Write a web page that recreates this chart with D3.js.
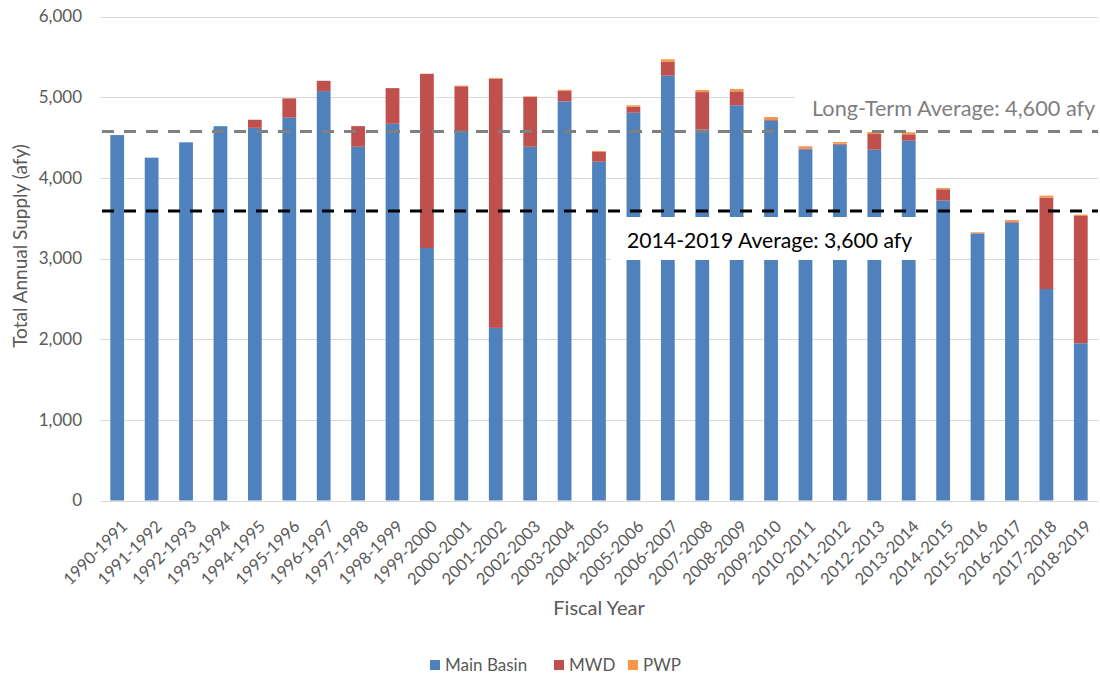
<!DOCTYPE html>
<html>
<head>
<meta charset="utf-8">
<script src="https://cdn.jsdelivr.net/npm/d3@7"></script>
<style>
  html, body { margin: 0; padding: 0; background: #fff; }
  svg { display: block; font-family: Lato, "Open Sans", sans-serif; }
</style>
</head>
<body>
<svg id="chart" width="1100" height="674"></svg>
<script>
const categories = ["1990-1991","1991-1992","1992-1993","1993-1994","1994-1995","1995-1996","1996-1997","1997-1998","1998-1999","1999-2000","2000-2001","2001-2002","2002-2003","2003-2004","2004-2005","2005-2006","2006-2007","2007-2008","2008-2009","2009-2010","2010-2011","2011-2012","2012-2013","2013-2014","2014-2015","2015-2016","2016-2017","2017-2018","2018-2019"];
const mainBasin = [4530,4250,4440,4640,4620,4745,5075,4385,4670,3130,4570,2140,4385,4948,4200,4807,5266,4600,4899,4708,4353,4411,4349,4460,3717,3312,3444,2622,1949];
const mwd       = [0,0,0,0,100,240,128,256,442,2160,565,3090,620,132,120,75,174,463,173,17,12,12,194,79,141,0,15,1132,1578];
const pwp       = [0,0,0,0,0,0,0,0,0,0,8,8,6,12,12,17,29,25,29,29,26,21,25,25,16,13,18,25,16];
const seriesNames = ["Main Basin","MWD","PWP"];
const seriesColors = ["#4f81bd","#c0504d","#f79646"];
const yTicks = [0,1000,2000,3000,4000,5000,6000];
const longTermAvg = 4575;
const recentAvg = 3590;
const longTermLabel = "Long-Term Average: 4,600 afy";
const recentLabel = "2014-2019 Average: 3,600 afy";

const svg = d3.select("#chart");
const textColor = "#595959";

const x = d3.scaleBand().domain(categories).range([100, 1098]).paddingInner(0.6).paddingOuter(0.3);
const y = d3.scaleLinear().domain([0, 6000]).range([500.5, 16.5]);

// gridlines
svg.append("g").selectAll("line").data(yTicks).join("line")
  .attr("x1", 100).attr("x2", 1098)
  .attr("y1", d => Math.round(y(d)) + 0.5).attr("y2", d => Math.round(y(d)) + 0.5)
  .attr("stroke", "#d9d9d9").attr("stroke-width", 1);

// y tick labels
const yAxis = d3.axisLeft(y).tickValues(yTicks).tickFormat(d3.format(",")).tickSize(0).tickPadding(0);
const yg = svg.append("g").attr("transform", "translate(82,0)").call(yAxis);
yg.select(".domain").remove();
yg.selectAll("text").attr("fill", textColor).style("font-size", "17px").style("font-family", "Lato, 'Open Sans', sans-serif");

// stacked bars
const rows = categories.map((c, i) => ({cat: c, "Main Basin": mainBasin[i], "MWD": mwd[i], "PWP": pwp[i]}));
const stack = d3.stack().keys(seriesNames)(rows);
svg.append("g").selectAll("g").data(stack).join("g")
  .attr("fill", (d, i) => seriesColors[i])
  .selectAll("rect").data(d => d).join("rect")
  .attr("x", d => x(d.data.cat))
  .attr("width", x.bandwidth())
  .attr("y", d => y(d[1]))
  .attr("height", d => Math.max(0, y(d[0]) - y(d[1])));

// label background boxes
svg.append("rect").attr("x", 610).attr("y", 217).attr("width", 320).attr("height", 43).attr("fill", "#fff");
svg.append("rect").attr("x", 795).attr("y", 82).attr("width", 305).attr("height", 44).attr("fill", "#fff");

// average lines
svg.append("line").attr("x1", 102).attr("x2", 1098)
  .attr("y1", y(longTermAvg)).attr("y2", y(longTermAvg))
  .attr("stroke", "#808080").attr("stroke-width", 3).attr("stroke-dasharray", "12,10");
svg.append("line").attr("x1", 102).attr("x2", 1098)
  .attr("y1", y(recentAvg)).attr("y2", y(recentAvg))
  .attr("stroke", "#000").attr("stroke-width", 3).attr("stroke-dasharray", "12,10");

svg.append("text").attr("x", 812).attr("y", 116).text(longTermLabel)
  .attr("fill", "#7f7f7f").style("font-size", "21.7px");
svg.append("text").attr("x", 627).attr("y", 248).text(recentLabel)
  .attr("fill", "#000").style("font-size", "21.2px");

// x tick labels
svg.append("g").selectAll("text").data(categories).join("text")
  .attr("transform", d => `translate(${x(d) + x.bandwidth() / 2 + 3},519) rotate(-45)`)
  .attr("text-anchor", "end").attr("dy", "0.72em")
  .attr("fill", textColor).style("font-size", "16.5px")
  .text(d => d);

// axis titles
svg.append("text").attr("transform", "translate(27,246) rotate(-90)")
  .attr("text-anchor", "middle").attr("fill", textColor).style("font-size", "19px")
  .text("Total Annual Supply (afy)");
svg.append("text").attr("x", 599).attr("y", 615).attr("text-anchor", "middle")
  .attr("fill", textColor).style("font-size", "20px").text("Fiscal Year");

// legend
const legendX = [430, 554, 628];
const lg = svg.append("g").selectAll("g").data(seriesNames).join("g")
  .attr("transform", (d, i) => `translate(${legendX[i]},660)`);
lg.append("rect").attr("width", 10).attr("height", 10).attr("fill", (d, i) => seriesColors[i]);
lg.append("text").attr("x", 15).attr("y", 11).attr("fill", textColor).style("font-size", "17px").text(d => d);
</script>
</body>
</html>
